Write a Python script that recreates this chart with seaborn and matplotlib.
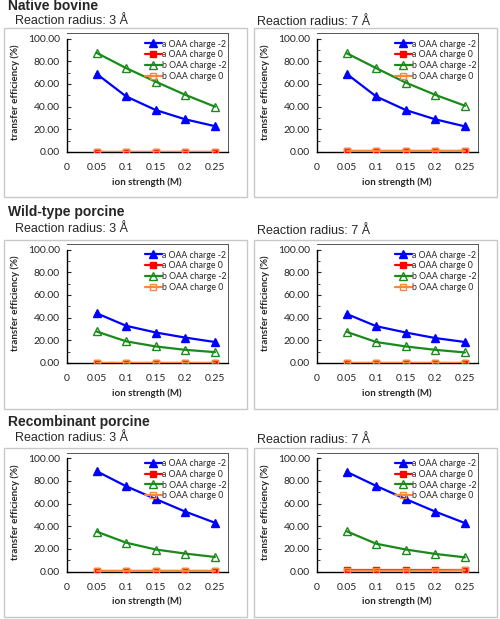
import numpy as np
import pandas as pd
import seaborn as sns
import matplotlib.pyplot as plt
from matplotlib.patches import Rectangle
from matplotlib.ticker import MultipleLocator, FormatStrFormatter

# ion strength (M)
ion_strength = [0.05, 0.1, 0.15, 0.2, 0.25]
x_tick_vals = [0, 0.05, 0.1, 0.15, 0.2, 0.25]
x_tick_labels = ['0', '0.05', '0.1', '0.15', '0.2', '0.25']

series_names = ['a OAA charge -2', 'a OAA charge 0', 'b OAA charge -2', 'b OAA charge 0']

# native bovine
bov3_a2 = [69.0, 49.0, 37.0, 28.8, 22.8]
bov3_a0 = [0.4, 0.4, 0.4, 0.4, 0.4]
bov3_b2 = [87.5, 74.0, 62.0, 50.4, 40.0]
bov3_b0 = [0.4, 0.4, 0.4, 0.4, 0.4]
bov7_a2 = [69.0, 49.0, 37.0, 28.8, 22.6]
bov7_a0 = [0.6, 0.6, 0.6, 0.6, 0.6]
bov7_b2 = [87.2, 74.0, 61.2, 50.4, 40.8]
bov7_b0 = [0.5, 0.5, 0.5, 0.5, 0.5]

# wild-type porcine
wt3_a2 = [43.9, 32.8, 26.9, 22.4, 18.5]
wt3_a0 = [0.2, 0.2, 0.2, 0.2, 0.2]
wt3_b2 = [27.8, 19.1, 14.6, 11.6, 9.6]
wt3_b0 = [0.2, 0.2, 0.2, 0.2, 0.2]
wt7_a2 = [43.3, 32.5, 26.9, 22.0, 18.5]
wt7_a0 = [0.3, 0.3, 0.3, 0.3, 0.3]
wt7_b2 = [27.5, 18.5, 14.6, 11.6, 9.3]
wt7_b0 = [0.3, 0.3, 0.3, 0.3, 0.3]

# recombinant porcine
rec3_a2 = [88.5, 75.2, 63.9, 52.8, 43.0]
rec3_a0 = [0.3, 0.3, 0.3, 0.3, 0.3]
rec3_b2 = [35.2, 25.4, 19.4, 15.8, 12.8]
rec3_b0 = [0.3, 0.3, 0.3, 0.3, 0.3]
rec7_a2 = [88.0, 75.5, 63.9, 52.8, 42.7]
rec7_a0 = [0.9, 0.9, 0.9, 0.9, 0.9]
rec7_b2 = [35.5, 24.5, 19.4, 15.5, 12.5]
rec7_b0 = [0.8, 0.8, 0.8, 0.8, 1.2]

group_titles = ['Native bovine', 'Wild-type porcine', 'Recombinant porcine']
radius_titles = ['Reaction radius: 3 Å', 'Reaction radius: 7 Å']

panels = [
    [[bov3_a2, bov3_a0, bov3_b2, bov3_b0], [bov7_a2, bov7_a0, bov7_b2, bov7_b0]],
    [[wt3_a2, wt3_a0, wt3_b2, wt3_b0], [wt7_a2, wt7_a0, wt7_b2, wt7_b0]],
    [[rec3_a2, rec3_a0, rec3_b2, rec3_b0], [rec7_a2, rec7_a0, rec7_b2, rec7_b0]],
]

colors = ['#0000FF', '#FF0000', '#1A8A1A', '#F7873A']
markers = ['^', 's', '^', 's']
filled = [True, True, False, False]
msizes = [5.5, 4.5, 6, 4.5]

sns.set_style('white')
plt.rcParams['font.family'] = ['Lato', 'DejaVu Sans']

W, H = 500, 619
fig = plt.figure(figsize=(W / 100, H / 100), dpi=100)


def fx(px):
    return px / W


def fy(py):
    return 1 - py / H


row_off = [0, 211, 419.5]
box_top = [28, 240, 448]
title_y = [6, 212, 422]
sub_y = [[21, 22], [229, 231], [438, 440]]

for r in range(3):
    fig.text(fx(8), fy(title_y[r]), group_titles[r],
             fontsize=10, fontweight='bold', family='Liberation Sans', va='center')
    for c in range(2):
        xo = 250 * c
        # panel frame
        fig.add_artist(Rectangle((fx(4 + xo), fy(box_top[r] + 169)), fx(243), 169 / H,
                                 transform=fig.transFigure, fill=False,
                                 edgecolor='#C8C8C8', lw=1.0))
        fig.text(fx(15 if c == 0 else 257), fy(sub_y[r][c]), radius_titles[c],
                 fontsize=9, family='Liberation Sans', va='center')

        top, bot = 33 + row_off[r], 152 + row_off[r]
        ax = fig.add_axes([fx(67 + xo), fy(bot), fx(161), (bot - top) / H])
        vals = panels[r][c]
        for k in range(4):
            df = pd.DataFrame({'x': ion_strength, 'y': vals[k]})
            sns.lineplot(data=df, x='x', y='y', ax=ax, color=colors[k],
                         marker=markers[k], markersize=msizes[k], lw=1.6,
                         markerfacecolor=colors[k] if filled[k] else 'none',
                         markeredgecolor=colors[k], markeredgewidth=1.0,
                         label=series_names[k], errorbar=None, zorder=3 + k)
        ax.set_xlim(0, 0.272)
        ax.set_ylim(0, 105)
        ax.set_xticks(x_tick_vals)
        ax.set_xticklabels(x_tick_labels)
        ax.yaxis.set_major_locator(MultipleLocator(20))
        ax.yaxis.set_minor_locator(MultipleLocator(10))
        ax.yaxis.set_major_formatter(FormatStrFormatter('%.2f'))
        ax.tick_params(axis='x', length=0, labelsize=7.5, pad=8)
        ax.tick_params(axis='y', which='both', direction='in', left=True,
                       labelsize=7.5, pad=5)
        ax.tick_params(axis='y', which='major', length=3)
        ax.tick_params(axis='y', which='minor', length=2.5)
        for s in ['left', 'bottom']:
            ax.spines[s].set_color('black')
            ax.spines[s].set_linewidth(1.0)
        ax.spines['left'].set_bounds(0, 100)
        for s in ['top', 'right']:
            ax.spines[s].set_color('#555555')
            ax.spines[s].set_linewidth(0.7)
        ax.set_xlabel('ion strength (M)', fontsize=7, fontweight='bold', va='center')
        ax.xaxis.set_label_coords(0.497, -0.252)
        ax.set_ylabel('transfer efficiency (%)', fontsize=7, fontweight='bold', va='center')
        ax.yaxis.set_label_coords(-0.323, 0.5)
        ax.legend(loc='upper right', bbox_to_anchor=(1.0, 0.96), frameon=False,
                  fontsize=6.3, handlelength=1.9, handletextpad=0.0,
                  labelspacing=0.2, borderaxespad=0.1, borderpad=0.1)

fig.savefig('out.png', dpi=100)
